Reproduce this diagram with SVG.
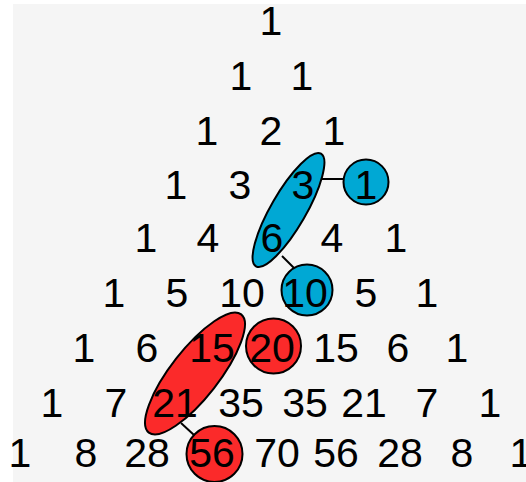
<svg xmlns="http://www.w3.org/2000/svg" width="526" height="482" viewBox="0 0 526 482">
<style>
.n{font-family:"Liberation Sans",Arial,sans-serif;font-size:41px;fill:#000;text-anchor:middle}
.b{fill:#00a8d4;stroke:#000;stroke-width:2}
.r{fill:#fb2a2a;stroke:#000;stroke-width:2}
.c{stroke:#000;stroke-width:2;fill:none}
</style>
<rect x="0" y="0" width="526" height="482" fill="#ffffff"/>
<rect x="13" y="4" width="513" height="478" fill="#f5f5f5"/>
<g id="connectors">
<line class="c" x1="321" y1="179" x2="344" y2="179"/>
<line class="c" x1="282" y1="256" x2="294" y2="268"/>
<line class="c" x1="181" y1="423" x2="194" y2="435"/>
</g>
<g id="blue-pair"><ellipse class="b" cx="288.5" cy="210" rx="65" ry="17.5" transform="rotate(-60 288.5 210)"/></g>
<g id="blue-one"><circle class="b" cx="366" cy="182" r="22.5"/></g>
<g id="blue-ten"><circle class="b" cx="307" cy="290" r="25.5"/></g>
<g id="red-pair"><ellipse class="r" cx="195" cy="373.5" rx="75" ry="24" transform="rotate(-52 195 373.5)"/></g>
<g id="red-twenty"><circle class="r" cx="273.5" cy="346" r="27.5"/></g>
<g id="red-fiftysix"><circle class="r" cx="214.5" cy="454" r="28"/></g>
<g id="numbers">
<text class="n" x="271" y="35">1</text>
<text class="n" x="241" y="90">1</text><text class="n" x="302" y="90">1</text>
<text class="n" x="207" y="145">1</text><text class="n" x="271" y="145">2</text><text class="n" x="334" y="145">1</text>
<text class="n" x="176" y="199">1</text><text class="n" x="240" y="199">3</text><text class="n" x="303" y="199">3</text><text class="n" x="366" y="199">1</text>
<text class="n" x="146" y="252">1</text><text class="n" x="208" y="252">4</text><text class="n" x="272" y="252">6</text><text class="n" x="332" y="252">4</text><text class="n" x="396" y="252">1</text>
<text class="n" x="114" y="307">1</text><text class="n" x="177" y="307">5</text><text class="n" x="242" y="307">10</text><text class="n" x="305" y="307">10</text><text class="n" x="366" y="307">5</text><text class="n" x="427" y="307">1</text>
<text class="n" x="84" y="362">1</text><text class="n" x="147" y="362">6</text><text class="n" x="212" y="362">15</text><text class="n" x="272" y="362">20</text><text class="n" x="336" y="362">15</text><text class="n" x="398" y="362">6</text><text class="n" x="457" y="362">1</text>
<text class="n" x="52" y="417">1</text><text class="n" x="116" y="417">7</text><text class="n" x="175" y="417">21</text><text class="n" x="241" y="417">35</text><text class="n" x="305" y="417">35</text><text class="n" x="364" y="417">21</text><text class="n" x="427" y="417">7</text><text class="n" x="490" y="417">1</text>
<text class="n" x="20" y="467">1</text><text class="n" x="86" y="467">8</text><text class="n" x="147" y="467">28</text><text class="n" x="212" y="467">56</text><text class="n" x="277" y="467">70</text><text class="n" x="336" y="467">56</text><text class="n" x="400" y="467">28</text><text class="n" x="462" y="467">8</text><text class="n" x="521" y="467">1</text>
</g>
</svg>
